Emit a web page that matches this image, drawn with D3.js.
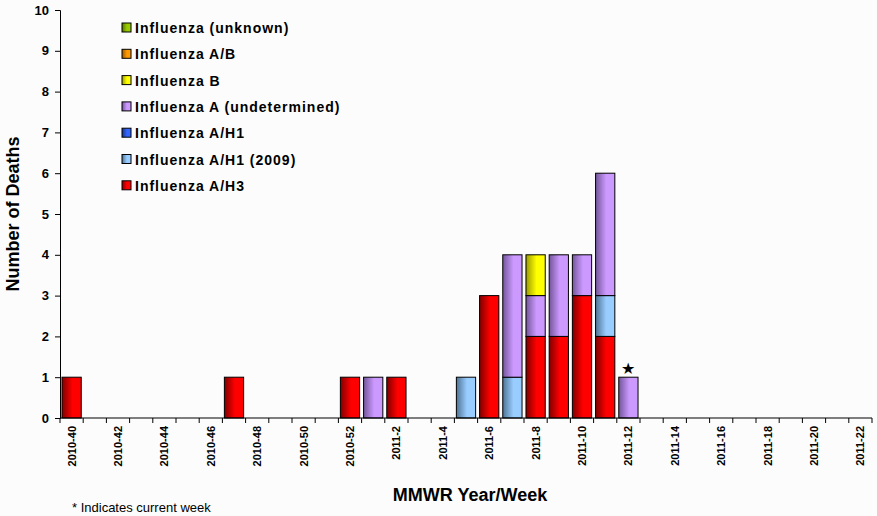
<!DOCTYPE html>
<html><head><meta charset="utf-8">
<script src="https://cdn.jsdelivr.net/npm/d3@7"></script>
<style>body{margin:0;background:#fbfcfb;font-family:Arial,"Liberation Sans",sans-serif}</style>
</head><body><div id="chart"></div>
<script>
var weeks = [];
for (var i = 40; i <= 52; i++) weeks.push("2010-" + i);
for (var j = 1; j <= 22; j++) weeks.push("2011-" + j);

var seriesNames = ["Influenza A/H3", "Influenza A/H1 (2009)", "Influenza A/H1", "Influenza A (undetermined)", "Influenza B", "Influenza A/B", "Influenza (unknown)"];
var seriesColors = ["#ff0000", "#99ccff", "#3366ff", "#cc99ff", "#ffff00", "#ff9900", "#99cc00"];
var seriesDark = ["#800000", "#4d7494", "#1a3380", "#73569a", "#9a9a00", "#995500", "#557300"];
// values keyed by week
var h3       = {"2010-40":1,"2010-47":1,"2010-52":1,"2011-2":1,"2011-6":3,"2011-8":2,"2011-9":2,"2011-10":3,"2011-11":2};
var h1_2009  = {"2011-5":1,"2011-7":1,"2011-11":1};
var h1       = {};
var aUndet   = {"2011-1":1,"2011-7":3,"2011-8":1,"2011-9":2,"2011-10":1,"2011-11":3,"2011-12":1};
var fluB     = {"2011-8":1};
var fluAB    = {};
var unknown  = {};
var currentWeek = "2011-12";
var yTicks = [0,1,2,3,4,5,6,7,8,9,10];

var seriesVals = [h3, h1_2009, h1, aUndet, fluB, fluAB, unknown];
var rows = weeks.map(function (w) {
    var r = {week: w};
    seriesNames.forEach(function (n, k) { r[n] = seriesVals[k][w] || 0; });
    return r;
});

var W = 877, H = 516, m = {l: 60, r: 5, t: 10, b: 98};
var svg = d3.select("#chart").append("svg").attr("width", W).attr("height", H);
var defs = svg.append("defs");
seriesNames.forEach(function (n, k) {
    var g = defs.append("linearGradient").attr("id", "g" + k).attr("x1", 0).attr("x2", 1).attr("y1", 0).attr("y2", 0);
    g.append("stop").attr("offset", "0%").attr("stop-color", seriesDark[k]);
    g.append("stop").attr("offset", "55%").attr("stop-color", seriesColors[k]);
    g.append("stop").attr("offset", "100%").attr("stop-color", seriesColors[k]);
});

var x = d3.scaleBand().domain(weeks).range([m.l, W - m.r]).paddingInner(0.17).paddingOuter(0.085);
var y = d3.scaleLinear().domain([0, 10]).range([H - m.b, m.t]);

var stack = d3.stack().keys(seriesNames)(rows);
svg.append("g").selectAll("g").data(stack).enter().append("g")
    .attr("fill", function (d, k) { return "url(#g" + k + ")"; })
    .selectAll("rect").data(function (d) { return d.filter(function (p) { return p[1] > p[0]; }); })
    .enter().append("rect")
    .attr("x", function (p) { return x(p.data.week); })
    .attr("width", x.bandwidth())
    .attr("y", function (p) { return y(p[1]); })
    .attr("height", function (p) { return y(p[0]) - y(p[1]); })
    .attr("stroke", "#000").attr("stroke-width", 1);

// star on current week
var cur = rows.find(function (r) { return r.week === currentWeek; });
var tot = d3.sum(seriesNames, function (n) { return cur[n]; });
svg.append("text").attr("x", x(currentWeek) + x.bandwidth() / 2).attr("y", y(tot) - 3)
    .attr("text-anchor", "middle").attr("font-size", 16).text("★");

// y axis
var ya = svg.append("g").attr("transform", "translate(" + m.l + ",0)")
    .call(d3.axisLeft(y).tickValues(yTicks).tickSize(5).tickPadding(6));
ya.selectAll("text").attr("font-size", 13).attr("font-weight", "bold");

// x axis
var step = x.step();
var labelWeeks = weeks.filter(function (w, i) { return i % 2 === 0; });
var xa = svg.append("g").attr("transform", "translate(0," + (H - m.b) + ")");
xa.append("line").attr("x1", m.l).attr("x2", W - m.r).attr("stroke", "#000");
xa.selectAll("line.t").data(weeks.concat(["end"])).enter().append("line").attr("class", "t")
    .attr("x1", function (w, i) { return m.l + i * step; })
    .attr("x2", function (w, i) { return m.l + i * step; })
    .attr("y1", 0).attr("y2", 5).attr("stroke", "#000");
xa.selectAll("text").data(labelWeeks).enter().append("text")
    .attr("transform", function (w) { return "translate(" + (x(w) + x.bandwidth() / 2 + 4) + ",8) rotate(-90)"; })
    .attr("text-anchor", "end").attr("font-size", 11).attr("font-weight", "bold").text(function (w) { return w; });
svg.selectAll(".domain").attr("stroke", "#000");

svg.append("text").attr("x", 470).attr("y", 501).attr("text-anchor", "middle")
    .attr("font-size", 18).attr("font-weight", "bold").text("MMWR Year/Week");
svg.append("text").attr("transform", "translate(19,214) rotate(-90)").attr("text-anchor", "middle")
    .attr("font-size", 18).attr("font-weight", "bold").text("Number of Deaths");
svg.append("text").attr("x", 72).attr("y", 512).attr("font-size", 13).text("* Indicates current week");

// legend
var lg = svg.append("g").selectAll("g").data(seriesNames.slice().reverse()).enter().append("g")
    .attr("transform", function (d, i) { return "translate(122," + (28 + i * 26.3) + ")"; });
lg.append("rect").attr("x", 0).attr("y", -5).attr("width", 9).attr("height", 9).attr("stroke", "#000")
    .attr("fill", function (d) { return "url(#g" + seriesNames.indexOf(d) + ")"; });
lg.append("text").attr("x", 13).attr("y", 5).attr("font-size", 14).attr("font-weight", "bold")
    .attr("letter-spacing", 1).text(function (d) { return d; });
</script></body></html>
